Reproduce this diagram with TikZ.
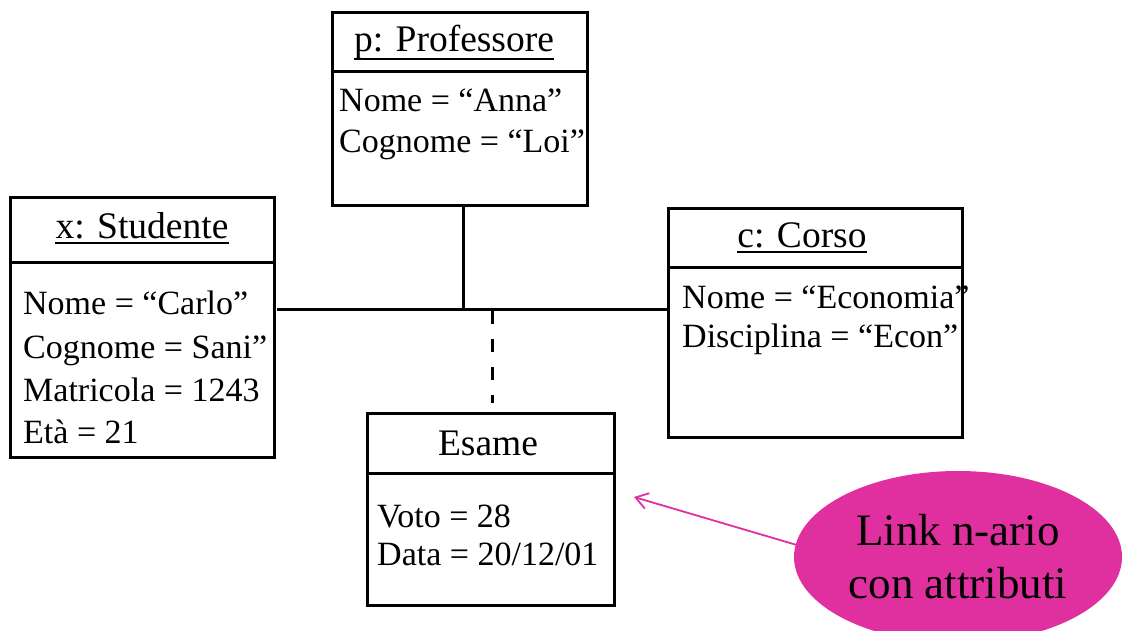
\documentclass[tikz,border=0pt]{standalone}
\usepackage{fontspec}
\setmainfont{Liberation Serif}
\usetikzlibrary{arrows.meta,shapes.geometric}
\definecolor{linkpink}{HTML}{E030A0}
\begin{document}
\begin{tikzpicture}[x=1pt,y=-1pt,
  obj/.style={draw, line width=3pt, anchor=north west, inner sep=0pt, outer sep=0pt},
  divline/.style={line width=3pt},
  ttl/.style={font=\fontsize{37.5}{40}\selectfont, anchor=base, inner sep=0pt},
  ulin/.style={line width=1.6pt},
  attr/.style={font=\fontsize{34}{40}\selectfont, anchor=base west, inner sep=0pt},
  conn/.style={line width=3pt},
  dashconn/.style={line width=3pt, dash pattern=on 13pt off 15pt},
  note/.style={ellipse, fill=linkpink, minimum width=328pt, minimum height=172pt, inner sep=0pt, align=center, font=\fontsize{45}{53}\selectfont},
  noteline/.style={draw=linkpink, line width=1.8pt, -{Straight Barb[length=12pt,width=16pt,line width=1.8pt]}},
]
\useasboundingbox (0,0) rectangle (1126,631);
\clip (0,0) rectangle (1126,631);

% Professore
\node[obj, minimum width=255pt, minimum height=192pt] (prof) at (332,13) {};
\draw[divline] (prof.west |- 0,72) -- (prof.east |- 0,72);
\node[ttl] (profT) at (454,52) {p: Professore};
\draw[ulin] ([yshift=-7pt]profT.base west) -- ([yshift=-7pt]profT.base east);
\node[attr] (profA1) at (339,112) {Nome = “Anna”};
\node[attr] (profA2) at (339,153) {Cognome = “Loi”};

% Studente
\node[obj, minimum width=264pt, minimum height=260pt] (stud) at (10,197) {};
\draw[divline] (stud.west |- 0,262) -- (stud.east |- 0,262);
\node[ttl] (studT) at (142,238) {x: Studente};
\draw[ulin] ([yshift=-5pt]studT.base west) -- ([yshift=-5pt]studT.base east);
\node[attr] (studA1) at (23,314) {Nome = “Carlo”};
\node[attr] (studA2) at (23,358) {Cognome = Sani”};
\node[attr] (studA3) at (23,401) {Matricola = 1243};
\node[attr] (studA4) at (23,443) {Età = 21};

% Corso
\node[obj, minimum width=294pt, minimum height=229pt] (corso) at (668,208) {};
\draw[divline] (corso.west |- 0,267) -- (corso.east |- 0,267);
\node[ttl] (corsoT) at (802,247) {c: Corso};
\draw[ulin] ([yshift=-5pt]corsoT.base west) -- ([yshift=-5pt]corsoT.base east);
\node[attr] (corsoA1) at (682,308) {Nome = “Economia”};
\node[attr] (corsoA2) at (682,347) {Disciplina = “Econ”};

% Esame
\node[obj, minimum width=247pt, minimum height=192pt] (esame) at (367,413) {};
\draw[divline] (esame.west |- 0,473) -- (esame.east |- 0,473);
\node[ttl] (esameT) at (488,455) {Esame};
\node[attr] (esameA1) at (377,527) {Voto = 28};
\node[attr] (esameA2) at (377,565) {Data = 20/12/01};

% n-ary link
\coordinate (hub) at (463,309);
\coordinate (dashtop) at (492,311);
\draw[conn] ([xshift=3pt]stud.east |- hub) -- (corso.west |- hub);
\draw[conn] (prof.south -| hub) -- (hub);
\draw[dashconn] (dashtop) -- ([yshift=10pt]esame.north -| dashtop);

% note
\node[note] (noteE) at (958,557) {Link n-ario\\con attributi};
\coordinate (arrowtip) at (634,497);
\draw[noteline] ([xshift=3pt]noteE.west |- 0,545) -- (arrowtip);
\end{tikzpicture}
\end{document}
